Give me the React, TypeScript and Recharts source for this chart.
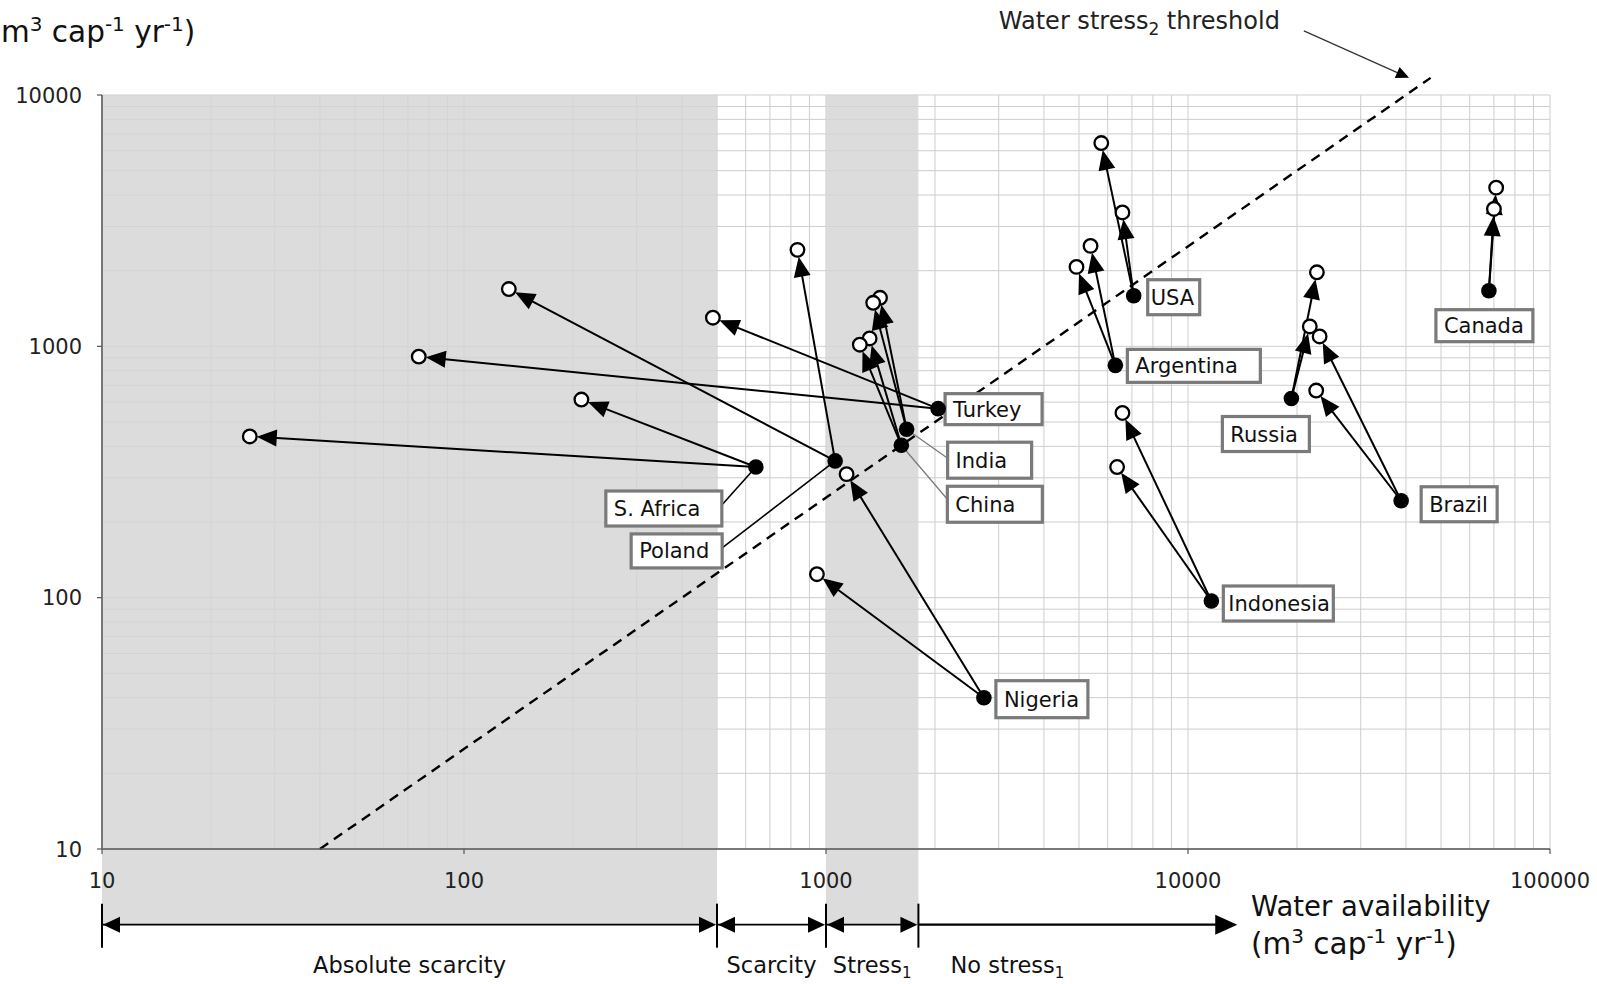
import React from 'react';
import {
  ComposedChart,
  XAxis,
  YAxis,
  CartesianGrid,
  ReferenceArea,
  ReferenceLine,
  Scatter,
} from 'recharts';

const FONT = '"DejaVu Sans", Verdana, sans-serif';

// Countries and their water availability (x) / water use (y), m3 per capita per year
const COUNTRIES = ['Turkey', 'India', 'China', 'USA', 'Argentina', 'Russia', 'Brazil', 'Canada', 'Indonesia', 'Nigeria', 'S. Africa', 'Poland'];
// present day
const AVAIL_NOW = [2040, 1670, 1615, 7080, 6300, 19300, 38800, 67800, 11600, 2730, 640, 1060];
const USE_NOW = [565, 468, 404, 1590, 840, 620, 243, 1665, 97, 40, 331, 350];
// first future scenario
const AVAIL_A = [75, 1410, 1320, 5760, 4920, 22700, 22600, 71000, 6590, 944, 25.6, 133];
const USE_A = [910, 1560, 1075, 6440, 2070, 1970, 667, 4280, 543, 124, 438, 1690];
// second future scenario
const AVAIL_B = [487, 1350, 1240, 6590, 5380, 21700, 23100, 70000, 6370, 1140, 211, 834];
const USE_B = [1300, 1490, 1015, 3410, 2510, 1200, 1095, 3520, 331, 310, 614, 2420];

const X_DECADES = [10, 100, 1000, 10000, 100000];
const Y_DECADES = [10, 100, 1000, 10000];

// availability classes shown under the x axis
const ZONE_BOUNDS = [10, 500, 1000, 1800, 13000];
const ZONE_NAMES = ['Absolute scarcity', 'Scarcity', 'Stress', 'No stress'];
const ZONE_SUBS = ['', '', '1', '1'];
const ZONE_START_HEAD = [true, true, true, false];
const SHADED_ZONES: [number, number][] = [[10, 500], [1000, 1800]];
const ZONE_BAR_Y = 5;

// water stress2 threshold: use = availability / 4
const STRESS2_START = { x: 40, y: 10 };
const STRESS2_END = { x: 46800, y: 11700 };
const STRESS2_NOTE_FROM = { x: 20900, y: 17990 };
const STRESS2_NOTE_TO = { x: 40800, y: 11700 };

const withMinors = (decades: number[]) => {
  const out: number[] = [];
  decades.forEach((d, i) => {
    if (i === decades.length - 1) {
      out.push(d);
      return;
    }
    for (let m = 1; m < 10; m++) out.push(m * d);
  });
  return out;
};
const X_TICKS = withMinors(X_DECADES);
const Y_TICKS = withMinors(Y_DECADES);

const NOW_POINTS = COUNTRIES.map((name, i) => ({ name, x: AVAIL_NOW[i], y: USE_NOW[i] }));
const FUTURE_POINTS = [
  ...COUNTRIES.map((name, i) => ({ name, x: AVAIL_A[i], y: USE_A[i] })),
  ...COUNTRIES.map((name, i) => ({ name, x: AVAIL_B[i], y: USE_B[i] })),
];
const ARROWS = [
  ...COUNTRIES.map((_, i) => [{ x: AVAIL_NOW[i], y: USE_NOW[i] }, { x: AVAIL_A[i], y: USE_A[i] }]),
  ...COUNTRIES.map((_, i) => [{ x: AVAIL_NOW[i], y: USE_NOW[i] }, { x: AVAIL_B[i], y: USE_B[i] }]),
];

// label box placement relative to each country's present-day dot (pixels)
type Layout = {
  dx: number;
  dy: number;
  w: number;
  h: number;
  pad?: number;
  leader?: { color: string; width: number; ex: number; ey: number };
};
const LABEL_LAYOUT: Record<string, Layout> = {
  Turkey: { dx: 7, dy: -15, w: 97, h: 31 },
  India: { dx: 41, dy: 13, w: 84, h: 36, leader: { color: '#777', width: 1.2, ex: 0, ey: 16 } },
  China: { dx: 46, dy: 41, w: 95, h: 36, leader: { color: '#777', width: 1.2, ex: 0, ey: 13 } },
  USA: { dx: 14, dy: -16, w: 52, h: 35, pad: 3 },
  Argentina: { dx: 12, dy: -16, w: 133, h: 33 },
  Russia: { dx: -69, dy: 18, w: 87, h: 35 },
  Brazil: { dx: 20, dy: -14, w: 76, h: 35 },
  Canada: { dx: -53, dy: 19, w: 97, h: 32 },
  Indonesia: { dx: 12, dy: -15, w: 110, h: 35, pad: 5 },
  Nigeria: { dx: 12, dy: -17, w: 92, h: 37 },
  'S. Africa': { dx: -150, dy: 24, w: 116, h: 35, leader: { color: '#000', width: 1.6, ex: 116, ey: 14 } },
  Poland: { dx: -204, dy: 73, w: 91, h: 34, leader: { color: '#000', width: 1.6, ex: 91, ey: 14 } },
};

const triangle = (tx: number, ty: number, ux: number, uy: number, len: number, half: number) => {
  const bx = tx - ux * len;
  const by = ty - uy * len;
  const px = -uy;
  const py = ux;
  return `${tx},${ty} ${bx + px * half},${by + py * half} ${bx - px * half},${by - py * half}`;
};

const okNum = (...v: number[]) => v.every((n) => Number.isFinite(n));

// trajectory arrow from present-day dot to a scenario dot
const ArrowShape = (props: any) => {
  const { x1, y1, x2, y2 } = props;
  if (!okNum(x1, y1, x2, y2)) return <g />;
  const dx = x2 - x1;
  const dy = y2 - y1;
  const len = Math.hypot(dx, dy) || 1;
  const ux = dx / len;
  const uy = dy / len;
  const tx = x2 - ux * 7;
  const ty = y2 - uy * 7;
  return (
    <g>
      <line x1={x1} y1={y1} x2={tx - ux * 12} y2={ty - uy * 12} stroke="#000" strokeWidth={2} />
      <polygon points={triangle(tx, ty, ux, uy, 20, 8.5)} fill="#000" />
    </g>
  );
};

const DashedShape = (props: any) => {
  const { x1, y1, x2, y2 } = props;
  if (!okNum(x1, y1, x2, y2)) return <g />;
  return <line x1={x1} y1={y1} x2={x2} y2={y2} stroke="#000" strokeWidth={2.4} strokeDasharray="10 7" />;
};

const NoteShape = (props: any) => {
  const { x1, y1, x2, y2 } = props;
  if (!okNum(x1, y1, x2, y2)) return <g />;
  const dx = x2 - x1;
  const dy = y2 - y1;
  const len = Math.hypot(dx, dy) || 1;
  const ux = dx / len;
  const uy = dy / len;
  return (
    <g>
      <line x1={x1} y1={y1} x2={x2 - ux * 8} y2={y2 - uy * 8} stroke="#333" strokeWidth={1.2} />
      <polygon points={triangle(x2, y2, ux, uy, 13, 6)} fill="#000" />
      <text x={x1 - 24} y={y1 - 2} textAnchor="end" fontFamily={FONT} fontSize={24} fill="#222">
        Water stress
        <tspan dy={6} fontSize={17}>2</tspan>
        <tspan dy={-6}> threshold</tspan>
      </text>
    </g>
  );
};

const makeZoneShape = (idx: number) => (props: any) => {
  const { x1, y1, x2 } = props;
  if (!okNum(x1, y1, x2)) return <g />;
  const last = idx === ZONE_NAMES.length - 1;
  const y = y1;
  return (
    <g>
      <line x1={x1} y1={y} x2={x2 - 6} y2={y} stroke="#000" strokeWidth={last ? 2.2 : 1.6} />
      <line x1={x1} y1={y - 21} x2={x1} y2={y + 23} stroke="#000" strokeWidth={2} />
      {ZONE_START_HEAD[idx] && <polygon points={triangle(x1 + 1, y, -1, 0, 17, 8)} fill="#000" />}
      <polygon points={triangle(last ? x2 + 8 : x2 - 1, y, 1, 0, last ? 22 : 17, last ? 10 : 8)} fill="#000" />
      <text
        x={last ? x1 + 32 : (x1 + x2) / 2}
        y={y + 48}
        textAnchor={last ? 'start' : 'middle'}
        fontFamily={FONT}
        fontSize={22.5}
        fill="#111"
      >
        {ZONE_NAMES[idx]}
        {ZONE_SUBS[idx] && (
          <tspan dy={5} fontSize={15}>
            {ZONE_SUBS[idx]}
          </tspan>
        )}
      </text>
    </g>
  );
};

const OpenDot = (p: any) => {
  if (!okNum(p.cx, p.cy)) return <g />;
  return <circle cx={p.cx} cy={p.cy} r={6.8} fill="#fff" stroke="#000" strokeWidth={2.3} />;
};

const NowDot = (p: any) => {
  if (!okNum(p.cx, p.cy)) return <g />;
  const name: string = p.payload?.name;
  const lay = LABEL_LAYOUT[name];
  const bx = p.cx + lay.dx;
  const by = p.cy + lay.dy;
  return (
    <g>
      {lay.leader && (
        <line
          x1={p.cx}
          y1={p.cy}
          x2={bx + lay.leader.ex}
          y2={by + lay.leader.ey}
          stroke={lay.leader.color}
          strokeWidth={lay.leader.width}
        />
      )}
      <rect x={bx} y={by} width={lay.w} height={lay.h} fill="#fff" stroke="#7a7a7a" strokeWidth={3.2} />
      <text x={bx + (lay.pad ?? 8)} y={by + lay.h / 2 + 7.5} fontFamily={FONT} fontSize={21} fill="#111">
        {name}
      </text>
      <circle cx={p.cx} cy={p.cy} r={7.8} fill="#000" />
    </g>
  );
};

const XTick = (p: any) => {
  const v = p.payload?.value;
  if (!X_DECADES.includes(v)) return <g />;
  return (
    <g>
      <line x1={p.x} x2={p.x} y1={p.y - 8} y2={p.y - 3} stroke="#555" strokeWidth={1.2} />
      <text x={p.x} y={p.y + 31} textAnchor="middle" fontFamily={FONT} fontSize={21} fill="#222">
        {v}
      </text>
    </g>
  );
};

const YTick = (p: any) => {
  const v = p.payload?.value;
  if (!Y_DECADES.includes(v)) return <g />;
  return (
    <g>
      <line x1={p.x + 3} x2={p.x + 8} y1={p.y} y2={p.y} stroke="#555" strokeWidth={1.2} />
      <text x={p.x - 12} y={p.y + 7.5} textAnchor="end" fontFamily={FONT} fontSize={21} fill="#222">
        {v}
      </text>
    </g>
  );
};

// unit text; `open` controls whether the leading parenthesis is drawn
const Units = ({ x, y, open }: { x: number; y: number; open: boolean }) => (
  <text x={x} y={y} textAnchor="start" fontFamily={FONT} fontSize={29.5} fill="#111">
    <tspan>{open ? '(m' : 'm'}</tspan>
    <tspan dy={-11} fontSize={20}>3</tspan>
    <tspan dy={11}> cap</tspan>
    <tspan dy={-11} fontSize={20}>-1</tspan>
    <tspan dy={11}> yr</tspan>
    <tspan dy={-11} fontSize={20}>-1</tspan>
    <tspan dy={11}>)</tspan>
  </text>
);

export default function App() {
  return (
    <div style={{ position: 'absolute', left: 0, top: 0, width: 1597, height: 984, background: '#fff' }}>
      <ComposedChart width={1597} height={984} margin={{ top: 95, right: 47, bottom: 0, left: 0 }}>
        <CartesianGrid stroke="#cdcdcd" strokeWidth={1} />
        <XAxis
          type="number"
          dataKey="x"
          scale="log"
          domain={[10, 100000]}
          allowDataOverflow
          ticks={X_TICKS}
          interval={0}
          tickLine={false}
          axisLine={{ stroke: '#555', strokeWidth: 1.6 }}
          tick={XTick}
          height={135}
        />
        <YAxis
          type="number"
          dataKey="y"
          scale="log"
          domain={[10, 10000]}
          allowDataOverflow
          ticks={Y_TICKS}
          interval={0}
          tickLine={false}
          axisLine={{ stroke: '#777', strokeWidth: 2 }}
          tick={YTick}
          width={102}
        />
        {SHADED_ZONES.map(([a, b]) => (
          <ReferenceArea
            key={`zone-${a}`}
            x1={a}
            x2={b}
            y1={ZONE_BAR_Y}
            y2={10000}
            ifOverflow="visible"
            fill="#d4d4d4"
            fillOpacity={0.82}
            stroke="none"
          />
        ))}
        {ZONE_NAMES.map((_, i) => (
          <ReferenceLine
            key={`bar-${i}`}
            segment={[
              { x: ZONE_BOUNDS[i], y: ZONE_BAR_Y },
              { x: ZONE_BOUNDS[i + 1], y: ZONE_BAR_Y },
            ]}
            ifOverflow="visible"
            shape={makeZoneShape(i)}
          />
        ))}
        <ReferenceLine segment={[STRESS2_START, STRESS2_END]} ifOverflow="visible" shape={DashedShape} />
        <ReferenceLine segment={[STRESS2_NOTE_FROM, STRESS2_NOTE_TO]} ifOverflow="visible" shape={NoteShape} />
        {ARROWS.map((seg, i) => (
          <ReferenceLine key={`arrow-${i}`} segment={seg} ifOverflow="visible" shape={ArrowShape} />
        ))}
        <Scatter data={FUTURE_POINTS} shape={OpenDot} isAnimationActive={false} />
        <Scatter data={NOW_POINTS} shape={NowDot} isAnimationActive={false} />
        <Units x={1} y={42} open={false} />
        <text x={1251} y={916} fontFamily={FONT} fontSize={27.5} fill="#111">
          Water availability
        </text>
        <Units x={1251} y={954} open />
      </ComposedChart>
    </div>
  );
}
